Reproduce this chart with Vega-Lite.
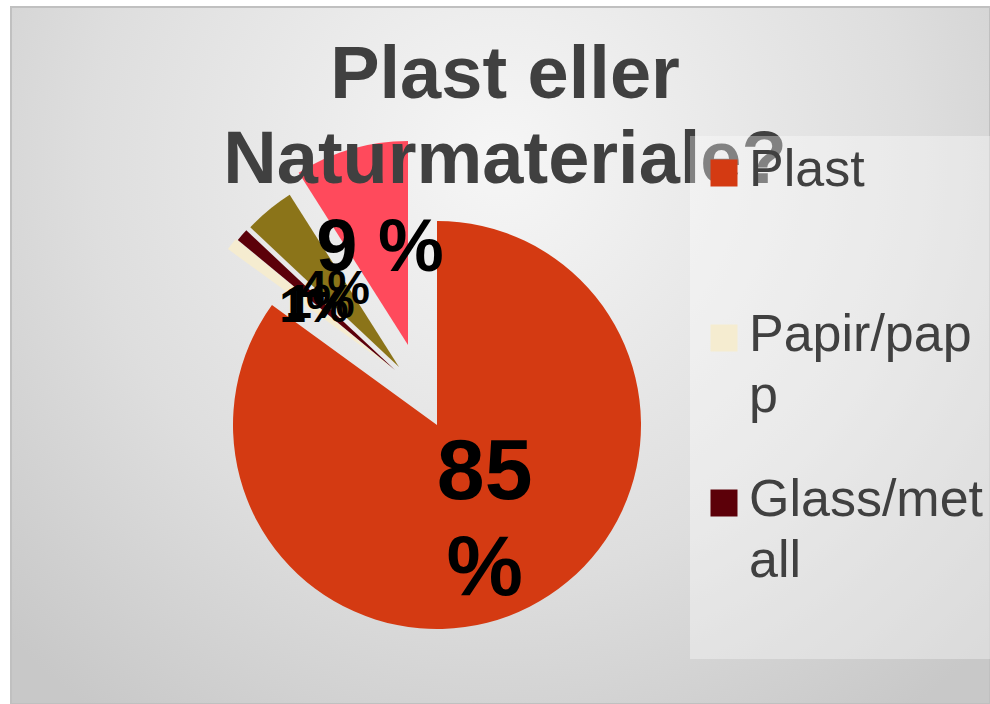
{
  "$schema": "https://vega.github.io/schema/vega-lite/v6.json",
  "width": 990,
  "height": 704,
  "autosize": {"type": "none"},
  "padding": 0,
  "background": "#ffffff",
  "title": {
    "text": ["Plast eller", "Naturmateriale?"],
    "font": "Liberation Sans",
    "fontSize": 74,
    "fontWeight": "bold",
    "color": "#404040",
    "anchor": "middle",
    "frame": "group",
    "baseline": "top",
    "lineHeight": 85,
    "offset": -199,
    "dx": 10,
    "zindex": 0
  },
  "data": {
    "values": [
      {"kategori": "Plast", "andel": 85, "etikett": "85 %"},
      {"kategori": "Papir/papp", "andel": 1, "etikett": "1%"},
      {"kategori": "Glass/metall", "andel": 1, "etikett": "1%"},
      {"kategori": "Naturmateriale", "andel": 4, "etikett": "4%"},
      {"kategori": "Annet", "andel": 9, "etikett": "9 %"}
    ]
  },
  "layer": [
    {
      "data": {"values": [{}]},
      "mark": {
        "type": "rect",
        "fill": {
          "gradient": "radial",
          "x1": 0.5, "y1": 0.3, "r1": 0,
          "x2": 0.5, "y2": 0.3, "r2": 0.7,
          "stops": [
            {"offset": 0, "color": "#f6f6f6"},
            {"offset": 0.6, "color": "#dedede"},
            {"offset": 1, "color": "#c8c8c8"}
          ]
        },
        "stroke": "#c0c0c0",
        "strokeWidth": 2
      },
      "encoding": {
        "x": {"value": 11},
        "x2": {"value": "width"},
        "y": {"value": 7},
        "y2": {"value": "height"}
      }
    },
    {
      "mark": {
        "type": "arc",
        "radius": 204,
        "strokeWidth": 0,
        "xOffset": {"expr": "datum.kategori === 'Annet' ? -29 : datum.kategori === 'Naturmateriale' ? -38 : datum.kategori === 'Glass/metall' ? -42 : datum.kategori === 'Papir/papp' ? -44 : 0"},
        "yOffset": {"expr": "datum.kategori === 'Annet' ? -80 : datum.kategori === 'Naturmateriale' ? -58 : datum.kategori === 'Glass/metall' ? -55 : datum.kategori === 'Papir/papp' ? -56 : 0"}
      },
      "encoding": {
        "x": {"value": 437},
        "y": {"value": 425},
        "theta": {
          "field": "andel",
          "type": "quantitative",
          "stack": true,
          "scale": {"domain": [0, 100], "range": [-0.94248, 5.34071]}
        },
        "order": {"field": "andel", "type": "quantitative"},
        "color": {
          "field": "kategori",
          "type": "nominal",
          "scale": {
            "domain": ["Plast", "Papir/papp", "Glass/metall", "Naturmateriale", "Annet"],
            "range": ["#d43a12", "#f5ecd0", "#5c0009", "#8b7419", "#ff4a5c"]
          },
          "legend": {
            "values": ["Plast", "Papir/papp", "Glass/metall"],
            "title": null,
            "orient": "none",
            "legendX": 690,
            "legendY": 136,
            "zindex": 1,
            "padding": 11,
            "fillColor": "rgba(255,255,255,0.35)",
            "strokeColor": null,
            "symbolType": "square",
            "symbolSize": 729,
            "symbolStrokeWidth": 0,
            "symbolOpacity": 1,
            "symbolOffset": -3,
            "labelOffset": -1,
            "labelFont": "Liberation Sans",
            "labelFontSize": 52,
            "labelColor": "#404040",
            "labelBaseline": "top",
            "labelLimit": 400,
            "rowPadding": 52,
            "gridAlign": "each",
            "labelExpr": "datum.label === 'Papir/papp' ? ['Papir/pap', 'p'] : datum.label === 'Glass/metall' ? ['Glass/met', 'all', ''] : [datum.label, '']",
            "encode": {
              "labels": {
                "update": {
                  "dy": {"value": -28},
                  "lineHeight": {"value": 61}
                }
              }
            }
          }
        }
      }
    },
    {
      "mark": {
        "type": "text",
        "font": "Liberation Sans",
        "fontWeight": "bold",
        "color": "#000000",
        "align": "center",
        "baseline": "middle",
        "lineHeight": 96,
        "radius": {"expr": "datum.kategori === 'Plast' ? 105 : 100"},
        "fontSize": {"expr": "datum.kategori === 'Plast' ? 86 : datum.kategori === 'Annet' ? 74 : 48"},
        "lineBreak": {"expr": "datum.kategori === 'Plast' ? ' ' : '|'"},
        "dy": {"expr": "datum.kategori === 'Plast' ? -46 : 0"},
        "xOffset": {"expr": "datum.kategori === 'Annet' ? -29 : datum.kategori === 'Naturmateriale' ? -38 : datum.kategori === 'Glass/metall' ? -42 : datum.kategori === 'Papir/papp' ? -44 : 0"},
        "yOffset": {"expr": "datum.kategori === 'Annet' ? -80 : datum.kategori === 'Naturmateriale' ? -58 : datum.kategori === 'Glass/metall' ? -55 : datum.kategori === 'Papir/papp' ? -56 : 0"}
      },
      "encoding": {
        "x": {"value": 437},
        "y": {"value": 425},
        "theta": {
          "field": "andel",
          "type": "quantitative",
          "stack": true,
          "scale": {"domain": [0, 100], "range": [-0.94248, 5.34071]}
        },
        "order": {"field": "andel", "type": "quantitative"},
        "detail": {"field": "kategori", "type": "nominal"},
        "text": {"field": "etikett", "type": "nominal"}
      }
    }
  ],
  "config": {
    "view": {"stroke": null},
    "font": "Liberation Sans"
  }
}
